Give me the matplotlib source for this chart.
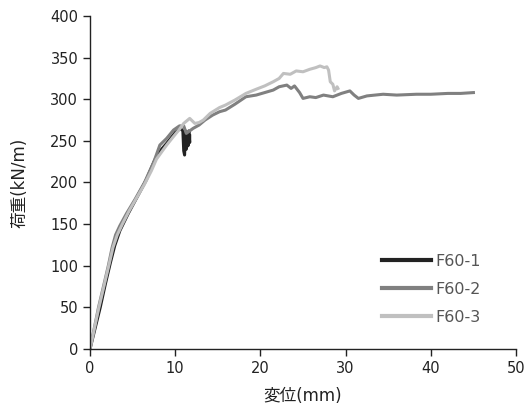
import matplotlib.pyplot as plt

plt.rcParams['font.family'] = ['DejaVu Sans', 'Noto Sans CJK JP']

# F60-1
x1 = [0, 0.6, 1.2, 1.8, 2.4, 2.9, 3.5, 4.5, 5.5, 6.6, 7.6, 8.4, 9.0, 10.0, 10.6, 10.9, 11.0,
      11.1, 11.2, 11.3, 11.4, 11.5, 11.6, 11.7, 11.7]
y1 = [0, 25, 50, 78, 104, 124, 142, 163, 182, 203, 227, 240, 247, 260, 265, 262, 238,
      233, 262, 240, 258, 244, 262, 248, 256]

# F60-2
x2 = [0, 0.5, 1.0, 1.6, 2.15, 2.6, 3.0, 3.5, 4.3, 5.3, 6.4, 7.5, 8.2, 9.0, 9.8, 10.5, 11.0,
      11.3, 12.1, 12.8, 13.5, 14.4, 15.2, 15.9, 17.0, 18.3, 19.5, 20.5, 21.5,
      22.2, 23.1, 23.6, 24.0, 24.6, 25.0, 25.8, 26.5, 27.4, 28.5, 29.5, 30.5, 31.0,
      31.5, 32.5, 34.4, 36.0, 38.3, 40.0, 42.0, 43.5, 45.0]
y2 = [0, 25, 50, 76, 100, 122, 137, 148, 163, 180, 200, 225, 245, 253, 263, 268, 268,
      259, 265, 269, 275, 281, 285, 287, 294, 303, 305, 308, 311,
      315, 317, 313, 316, 308, 301, 303, 302, 305, 303, 307, 310, 305,
      301, 304, 306, 305, 306, 306, 307, 307, 308]

# F60-3
x3 = [0, 0.5, 1.0, 1.6, 2.2, 2.7, 3.2, 3.8, 4.6, 5.5, 6.4, 7.2, 7.8, 8.5, 9.0, 9.7, 10.5,
      11.0, 11.7, 12.3, 12.8, 13.3, 14.1, 15.2, 15.9, 17.0, 18.3, 19.5, 20.5, 21.5,
      22.2, 22.7, 23.5, 24.2, 25.0, 25.8, 26.5, 27.0, 27.5, 27.8, 28.0, 28.2, 28.5,
      28.7, 29.0, 29.1]
y3 = [0, 24, 48, 74, 100, 122, 137, 150, 166, 182, 198, 214, 228, 238, 245, 254, 264,
      271, 277, 271, 272, 275, 283, 290, 293, 299, 307, 312, 316, 321,
      325, 331, 330, 334, 333, 336, 338, 340, 338, 339, 335, 321, 318,
      310, 315, 313]

series = [(x1, y1, 'F60-1', '#222222'),
          (x2, y2, 'F60-2', '#808080'),
          (x3, y3, 'F60-3', '#c0c0c0')]

fig = plt.figure(figsize=(5.31, 4.09), dpi=100)
ax = fig.add_axes([0.1695, 0.1467, 0.8023, 0.8142])

for x, y, lab, c in series:
    ax.plot(x, y, color=c, linewidth=2.2, label=lab)

ax.set_xlim(0, 50)
ax.set_ylim(0, 400)
ax.set_xticks(range(0, 51, 10))
ax.set_yticks(range(0, 401, 50))
ax.spines['top'].set_visible(False)
ax.spines['right'].set_visible(False)
for s in ['left', 'bottom']:
    ax.spines[s].set_linewidth(1.0)
    ax.spines[s].set_color('#222222')
ax.tick_params(axis='both', direction='out', length=5, width=1, labelsize=10.5,
               color='#222222', labelcolor='#222222')

ax.set_xlabel('変位(mm)', fontsize=12, color='#222222')
ax.set_ylabel('荷重(kN/m)', fontsize=12, color='#222222')
ax.xaxis.set_label_coords(0.5, -0.115)
ax.yaxis.set_label_coords(-0.145, 0.5)

leg = ax.legend(loc='upper left', bbox_to_anchor=(382 / 531, 1 - 254 / 409),
                bbox_transform=fig.transFigure, frameon=False, fontsize=11.5,
                borderpad=0, borderaxespad=0, handlelength=3.05, labelspacing=0.8,
                handletextpad=0.3)
for t in leg.get_texts():
    t.set_color('#555555')
for h in leg.get_lines():
    h.set_linewidth(3)

fig.savefig('out.png', dpi=100)
